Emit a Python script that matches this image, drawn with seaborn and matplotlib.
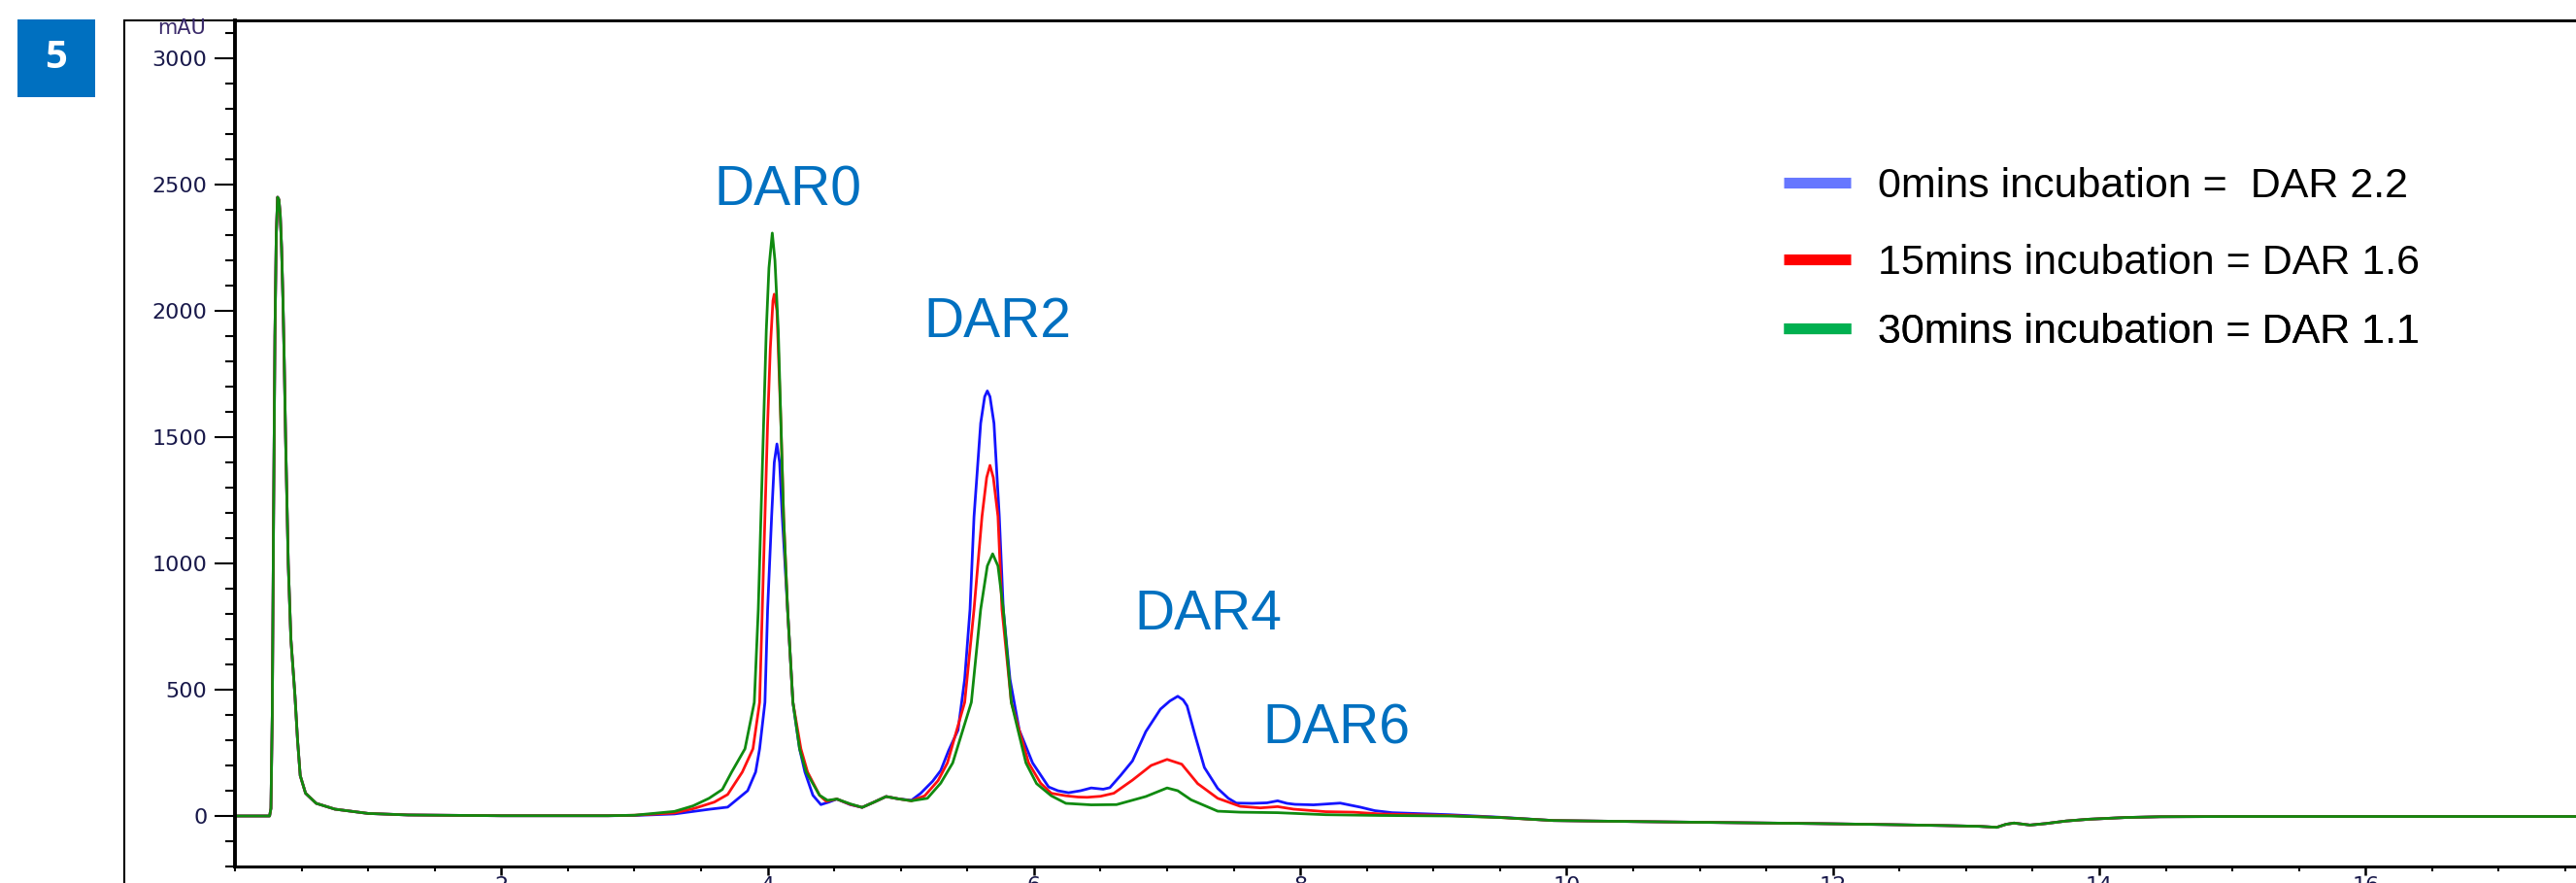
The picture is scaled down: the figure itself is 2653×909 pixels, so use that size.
import pandas as pd
import matplotlib.pyplot as plt
import seaborn as sns
from matplotlib.ticker import MultipleLocator, FixedLocator
from matplotlib.patches import Rectangle
from matplotlib.lines import Line2D

sns.set_style('white')
plt.rcParams['font.family'] = ['DejaVu Sans']

# 데이터
front_t = [0.0, 0.26, 0.27, 0.28, 0.29, 0.30, 0.31, 0.32, 0.33, 0.34, 0.35, 0.36, 0.37,
           0.38, 0.39, 0.40, 0.42, 0.45, 0.47, 0.49, 0.53, 0.61, 0.75, 1.0, 1.3, 2.0, 2.8]
front_v = [0, 0, 30, 400, 1200, 1900, 2300, 2450, 2440, 2380, 2250, 2050, 1800,
           1500, 1250, 1000, 700, 480, 300, 160, 90, 50, 27, 10, 4, 1, 1]

tail_t = [10.5, 11.0, 11.86, 12.4, 12.84, 13.1, 13.23, 13.30, 13.36, 13.48, 13.6, 13.75,
          13.92, 14.2, 14.46, 15.0, 16.0, 17.0, 18.0]
tail_v = [-22, -25, -30, -34, -38, -41, -45, -33, -28, -36, -30, -20,
          -13, -6, -3, -2, -2, -2, -2]

t_0min = [3.0, 3.3, 3.57, 3.70, 3.85, 3.91, 3.94, 3.98, 4.00, 4.03, 4.05, 4.07, 4.09, 4.11,
          4.15, 4.19, 4.24, 4.28, 4.34, 4.40, 4.46, 4.52, 4.62, 4.71, 4.80, 4.89, 4.98, 5.08,
          5.15, 5.24, 5.30, 5.36, 5.43, 5.48, 5.52, 5.55, 5.60, 5.63, 5.65, 5.67, 5.70, 5.74,
          5.77, 5.82, 5.89, 5.99, 6.11, 6.18, 6.26, 6.35, 6.43, 6.52, 6.57, 6.65, 6.74, 6.84,
          6.95, 7.02, 7.08, 7.12, 7.15, 7.21, 7.28, 7.38, 7.46, 7.52, 7.64, 7.75, 7.83, 7.90,
          7.96, 8.10, 8.30, 8.45, 8.56, 8.69, 9.12, 9.5, 9.9]
v_0min = [2, 8, 27, 35, 100, 174, 266, 450, 818, 1185, 1400, 1473, 1400, 1185,
          818, 450, 266, 174, 82, 45, 55, 67, 45, 34, 55, 77, 68, 62,
          90, 138, 180, 260, 340, 542, 818, 1185, 1555, 1660, 1683, 1660, 1555, 1185,
          818, 542, 340, 210, 115, 100, 92, 100, 111, 106, 112, 160, 218, 334,
          423, 455, 474, 460, 436, 320, 192, 109, 70, 51, 50, 52, 60, 50,
          46, 44, 51, 35, 21, 13, 5, -5, -18]

t_15min = [3.0, 3.3, 3.45, 3.60, 3.70, 3.81, 3.89, 3.94, 3.96, 3.98, 4.00, 4.02, 4.04, 4.05,
           4.07, 4.08, 4.10, 4.12, 4.15, 4.19, 4.25, 4.30, 4.39, 4.44, 4.52, 4.62, 4.71, 4.80,
           4.89, 4.98, 5.08, 5.18, 5.28, 5.35, 5.48, 5.55, 5.61, 5.645, 5.67, 5.695, 5.73,
           5.76, 5.83, 5.96, 6.05, 6.13, 6.24, 6.33, 6.40, 6.50, 6.60, 6.74, 6.88, 7.00, 7.11,
           7.23, 7.38, 7.55, 7.70, 7.83, 7.95, 8.19, 8.40, 8.6, 9.12, 9.5, 9.9]
v_15min = [3, 12, 30, 55, 85, 174, 266, 450, 818, 1186, 1554, 1850, 2040, 2066,
           2000, 1850, 1554, 1186, 818, 450, 266, 174, 82, 58, 67, 46, 34, 55,
           77, 68, 60, 80, 140, 210, 450, 818, 1186, 1340, 1388, 1340, 1186,
           818, 450, 210, 130, 90, 80, 75, 74, 78, 90, 142, 200, 224, 205,
           128, 70, 38, 32, 37, 27, 17, 15, 8, 2, -6, -18]

t_30min = [3.0, 3.3, 3.44, 3.56, 3.66, 3.73, 3.83, 3.90, 3.93, 3.95, 3.97, 3.99, 4.01, 4.035,
           4.055, 4.08, 4.10, 4.12, 4.15, 4.19, 4.24, 4.29, 4.39, 4.45, 4.52, 4.62, 4.71, 4.80,
           4.89, 4.98, 5.08, 5.20, 5.30, 5.39, 5.53, 5.60, 5.65, 5.69, 5.73, 5.77, 5.83, 5.94,
           6.02, 6.13, 6.24, 6.43, 6.62, 6.84, 7.00, 7.08, 7.18, 7.38, 7.55, 7.83, 8.19, 8.6,
           9.12, 9.5, 9.9]
v_30min = [3, 18, 40, 70, 105, 174, 266, 450, 818, 1186, 1554, 1922, 2170, 2308,
           2200, 1922, 1554, 1186, 818, 450, 266, 174, 82, 62, 67, 48, 34, 55,
           77, 68, 60, 70, 130, 210, 450, 818, 990, 1038, 990, 818, 450, 210,
           128, 80, 50, 44, 45, 77, 111, 100, 64, 19, 15, 13, 5, 2,
           0, -6, -18]

samples = ['0min', '15min', '30min']
trace_colors = {'0min': '#1414ff', '15min': '#ff1010', '30min': '#108a10'}
legend_labels = ['0mins incubation =  DAR 2.2', '15mins incubation = DAR 1.6', '30mins incubation = DAR 1.1']
legend_colors = ['#6677ff', '#ff0000', '#00b050']
peak_names = ['DAR0', 'DAR2', 'DAR4', 'DAR6']
peak_pos = [(4.15, 2419), (5.73, 1896), (7.31, 738), (8.27, 288)]

frames = []
for name, t, v in zip(samples, [t_0min, t_15min, t_30min], [v_0min, v_15min, v_30min]):
    frames.append(pd.DataFrame({'time': front_t + t + tail_t,
                                'mAU': front_v + v + tail_v,
                                'sample': name}))
df = pd.concat(frames, ignore_index=True)

W, H = 2653, 909
fig = plt.figure(figsize=(W / 100, H / 100), dpi=100)
fig.patch.set_facecolor('white')

# 축 위치 (픽셀 기준)
ax = fig.add_axes([242 / W, (H - 892) / H, 18 * 137.14 / W, (892 - 21) / H])
sns.lineplot(data=df, x='time', y='mAU', hue='sample', hue_order=samples,
             palette=trace_colors, estimator=None, sort=False, legend=False,
             linewidth=2.0, ax=ax)
ax.set_xlim(0, 18)
ax.set_ylim(-200, 3150)
ax.set_xlabel('')
ax.set_ylabel('')

ax.yaxis.set_major_locator(MultipleLocator(500))
ax.yaxis.set_minor_locator(MultipleLocator(100))
ax.xaxis.set_major_locator(FixedLocator(list(range(2, 17, 2))))
ax.xaxis.set_minor_locator(MultipleLocator(0.5))
tick_col = '#18184a'
ax.tick_params(axis='y', which='major', direction='out', length=15, width=1.5, pad=5.5,
               labelsize=16, labelcolor=tick_col, color='black', left=True)
ax.tick_params(axis='y', which='minor', direction='out', length=7, width=1.5, color='black', left=True)
ax.tick_params(axis='x', which='major', direction='out', length=6.5, width=1.8, pad=1,
               labelsize=16, labelcolor=tick_col, color='black', bottom=True)
ax.tick_params(axis='x', which='minor', direction='out', length=3.5, width=1.5, color='black', bottom=True)

for side in ['left', 'bottom', 'top']:
    ax.spines[side].set_color('black')
ax.spines['left'].set_linewidth(2.8)
ax.spines['bottom'].set_linewidth(2.2)
ax.spines['top'].set_linewidth(2.0)
ax.spines['right'].set_visible(False)

# 피크 라벨
for name, (x, y) in zip(peak_names, peak_pos):
    ax.text(x, y, name, ha='center', va='baseline', fontsize=41, color='#0070c0',
            family=['Liberation Sans', 'DejaVu Sans'])

# 범례 (행 간격이 고르지 않아 하나씩)
row_y = [192, 271, 342]
for lab, col, yy in zip(legend_labels, legend_colors, row_y):
    h = Line2D([0], [0], color=col, lw=8, solid_capstyle='butt')
    leg = ax.legend([h], [lab], loc='center left', bbox_to_anchor=(1837 / W, 1 - yy / H),
                    bbox_transform=fig.transFigure, frameon=False, borderpad=0,
                    borderaxespad=0, handlelength=1.6, handletextpad=0.65, labelcolor='black',
                    prop={'family': ['Liberation Sans', 'DejaVu Sans'], 'size': 31})
    ax.add_artist(leg)

# 바깥 틀, 번호 상자, 단위
fig.add_artist(Rectangle((128 / W, -0.1), 1.0, 1 - 21 / H + 0.1, transform=fig.transFigure,
                         fill=False, edgecolor='black', lw=1.5))
fig.add_artist(Rectangle((18 / W, 1 - 100 / H), 80 / W, 80 / H, transform=fig.transFigure,
                         facecolor='#0070c0', edgecolor='none'))
fig.text(58 / W, 1 - 60 / H, '5', ha='center', va='center', color='white', fontsize=29,
         fontweight='bold', family=['Open Sans', 'DejaVu Sans'])
fig.text(187 / W, 1 - 29 / H, 'mAU', ha='center', va='center', color='#3a2a6a', fontsize=15)

fig.savefig('out.png', dpi=100, facecolor='white')
